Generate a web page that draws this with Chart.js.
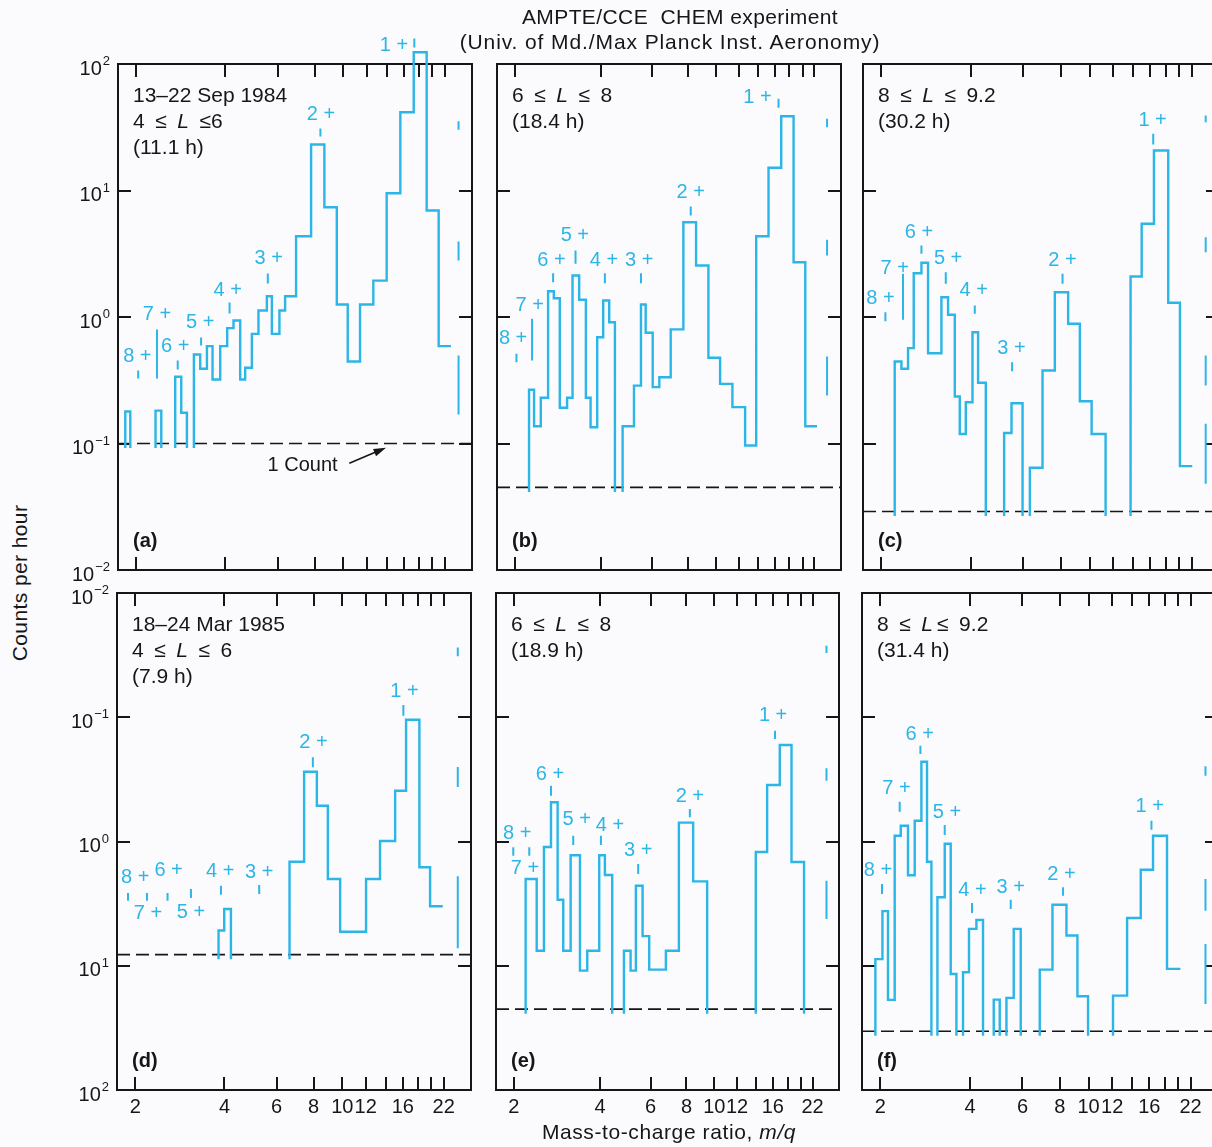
<!DOCTYPE html>
<html>
<head>
<meta charset="utf-8">
<title>AMPTE/CCE CHEM experiment</title>
<script src="https://cdn.jsdelivr.net/npm/chart.js@4.4.1/dist/chart.umd.min.js"></script>
<style>
    html, body { margin: 0; padding: 0; }
    body {
        width: 1212px; height: 1147px; overflow: hidden; position: relative;
        background: #fbfbfd; color: #161616;
        font-family: "Liberation Sans", Arial, Helvetica, sans-serif;
    }
    canvas { position: absolute; }
    .lbl { position: absolute; white-space: nowrap; font-size: 21px; line-height: 21px; }
</style>
</head>
<body>
<script>
// axes
const xMin = 1.735, xMax = 27.2, yMin = 0.01, yMax = 100;
const xTicks = [2, 4, 6, 8, 10, 12, 14, 16, 18, 20, 22];
const xTickLabels = ['2', '4', '6', '8', '10', '12', '', '16', '', '', '22'];
const yTicks = [100, 10, 1, 0.1, 0.01];
const topRowExp = ['2', '1', '0', '\u22121', '\u22122'];
const bottomRowExp = ['\u22122', '\u22121', '0', '1', '2'];
const ionLabels = ['8+', '7+', '6+', '5+', '4+', '3+', '2+', '1+'];

// (a) 13-22 Sep 1984, 4 <= L <= 6
const aHeader = ['13\u201322 Sep 1984', '4\u2002\u2264\u2002*L*\u2002\u22646', '(11.1 h)'];
const aEdges = [1.80, 1.836, 1.909, 2.323, 2.429, 2.707, 2.837, 2.965, 3.130, 3.288, 3.464, 3.618, 3.841, 4.055, 4.259, 4.486, 4.663, 4.913, 5.171, 5.520, 5.739, 6.086, 6.361, 6.927, 7.785, 8.632, 9.507, 10.35, 11.39, 12.63, 14.01, 15.58, 17.29, 19.12, 20.99, 23.09];
const aCounts = [0, 0.179, 0, 0.182, 0, 0.337, 0.175, 0, 0.505, 0.390, 0.588, 0.321, 0.588, 0.816, 0.938, 0.321, 0.397, 0.736, 1.126, 1.460, 0.736, 1.126, 1.460, 4.35, 23.1, 7.38, 1.256, 0.445, 1.256, 1.94, 9.52, 41.6, 124, 6.95, 0.588];
const aLevel = 0.1;
const aIonX = [2.03, 2.35, 2.76, 3.31, 4.13, 5.56, 8.37, 17.37];
const aIonTop = [0.378, 0.796, 0.453, 0.688, 1.302, 2.207, 30.9, 159];
const aIonBottom = [0.3265, 0.3265, 0.3846, 0.595, 1.066, 1.84, 26.7, 135];
const aLabelX = [2.016, 2.35, 2.707, 3.288, 4.07, 5.60, 8.41, 14.83];
const aLabelY = [0.487, 1.047, 0.5845, 0.905, 1.62, 2.90, 39.9, 140];
const aMarkX = 24.5;
const aMarkLo = [30.2, 2.797, 0.1695];
const aMarkHi = [35.3, 3.953, 0.4963];
const noteText = '1 Count';
const noteAt = [7.29, 0.067];
const arrowFrom = [10.48, 0.0699];
const arrowTo = [13.94, 0.0925];

// (b) 6 <= L <= 8
const bHeader = ['6\u2002\u2264\u2002*L*\u2002\u2264\u20028', '(18.4 h)'];
const bEdges = [1.80, 2.242, 2.334, 2.463, 2.611, 2.733, 2.867, 3.040, 3.175, 3.348, 3.533, 3.668, 3.868, 4.058, 4.258, 4.457, 4.740, 5.191, 5.489, 5.700, 6.030, 6.358, 6.964, 7.706, 8.531, 9.417, 10.34, 11.41, 12.63, 13.80, 15.23, 16.86, 18.61, 20.44, 22.45];
const bCounts = [0, 0.266, 0.137, 0.230, 1.600, 1.408, 0.1915, 0.230, 2.129, 1.368, 0.230, 0.1345, 0.692, 1.350, 0.910, 0, 0.137, 0.287, 1.256, 0.750, 0.279, 0.334, 0.799, 5.616, 2.554, 0.476, 0.296, 0.194, 0.0964, 4.352, 15.12, 38.68, 2.712, 0.137];
const bLevel = 0.045;
const bIonX = [2.027, 2.297, 2.718, 3.252, 4.113, 5.489, 8.175, 16.50];
const bIonTop = [0.5117, 0.968, 2.220, 3.355, 2.220, 2.220, 7.472, 53.1];
const bIonBottom = [0.4392, 0.453, 1.884, 2.634, 1.850, 1.850, 6.345, 45.07];
const bLabelX = [1.973, 2.255, 2.684, 3.234, 4.080, 5.415, 8.175, 13.94];
const bLabelY = [0.6725, 1.233, 2.797, 4.41, 2.797, 2.797, 9.70, 54.6];
const bMarkX = 24.33;
const bMarkLo = [31.66, 3.063, 0.2395];
const bMarkHi = [36.9, 4.076, 0.4873];

// (c) 8 <= L <= 9.2
const cHeader = ['8\u2002\u2264\u2002*L*\u2002\u2264\u20029.2', '(30.2 h)'];
const cEdges = [1.80, 2.217, 2.335, 2.458, 2.568, 2.726, 2.869, 3.181, 3.349, 3.527, 3.666, 3.841, 4.045, 4.224, 4.483, 5.166, 5.469, 5.957, 6.303, 6.951, 7.645, 8.474, 9.276, 10.16, 11.32, 13.73, 14.96, 16.45, 18.37, 20.11, 22.12];
const cCounts = [0, 0.445, 0.390, 0.567, 2.220, 2.682, 0.517, 1.434, 1.041, 0.235, 0.119, 0.212, 0.758, 0.302, 0, 0.121, 0.208, 0, 0.0643, 0.378, 1.570, 0.884, 0.216, 0.119, 0, 2.090, 5.455, 20.71, 1.295, 0.0662];
const cLevel = 0.029;
const cIonX = [2.063, 2.364, 2.726, 3.290, 4.117, 5.494, 8.115, 16.36];
const cIonTop = [1.091, 2.195, 3.674, 2.260, 1.233, 0.4392, 2.195, 28.07];
const cIonBottom = [0.9264, 0.950, 3.160, 1.830, 1.060, 0.3729, 1.830, 23.1];
const cLabelX = [1.985, 2.217, 2.676, 3.349, 4.086, 5.469, 8.115, 16.28];
const cLabelY = [1.393, 2.404, 4.68, 2.885, 1.62, 0.5607, 2.797, 35.8];
const cMarkX = 24.54;
const cMarkLo = [34.7, 3.253, 0.2873, 0.048];
const cMarkHi = [39.2, 4.273, 0.4963, 0.1431];

// (d) 18-24 Mar 1985, 4 <= L <= 6
const dHeader = ['18\u201324 Mar 1985', '4\u2002\u2264\u2002*L*\u2002\u2264\u20026', '(7.9 h)'];
const dEdges = [1.80, 3.821, 3.993, 4.207, 6.634, 7.432, 8.206, 8.937, 9.834, 12.03, 13.41, 15.08, 16.42, 18.21, 19.79, 21.84];
const dCounts = [0, 0.192, 0.286, 0, 0.688, 3.642, 1.941, 0.499, 0.188, 0.499, 1.009, 2.563, 9.548, 0.620, 0.301];
const dLevel = 0.1228;
const dIonX = [1.890, 2.190, 2.570, 3.083, 3.893, 5.241, 7.954, 16.08];
const dIonTop = [0.3853, 0.3853, 0.3853, 0.4148, 0.4410, 0.4467, 4.757, 12.54];
const dIonBottom = [0.334, 0.334, 0.334, 0.3511, 0.3733, 0.3782, 3.954, 10.28];
const dLabelX = [2.000, 2.207, 2.591, 3.083, 3.871, 5.241, 7.991, 16.21];
const dLabelY = [0.515, 0.261, 0.582, 0.2694, 0.5715, 0.565, 6.28, 16.04];
const dMarkX = 24.54;
const dMarkLo = [30.9, 2.745, 0.1382];
const dMarkHi = [36.5, 3.977, 0.5249];

// (e) 6 <= L <= 8
const eHeader = ['6\u2002\u2264\u2002*L*\u2002\u2264\u20028', '(18.9 h)'];
const eEdges = [1.80, 2.201, 2.405, 2.549, 2.697, 2.845, 2.976, 3.158, 3.403, 3.608, 3.972, 4.157, 4.409, 4.843, 5.109, 5.331, 5.625, 5.931, 6.781, 7.527, 8.439, 9.443, 13.95, 15.28, 16.91, 18.58, 20.55, 22.5];
const eCounts = [0, 0.499, 0.132, 0.903, 2.067, 0.340, 0.132, 0.775, 0.0913, 0.132, 0.775, 0.538, 0, 0.132, 0.0913, 0.441, 0.173, 0.0930, 0.132, 1.419, 0.478, 0, 0.823, 2.848, 5.975, 0.684, 0];
const eLevel = 0.0447;
const eIonX = [1.993, 2.266, 2.697, 3.224, 4.026, 5.430, 8.219, 16.28];
const eIonTop = [0.898, 0.898, 2.811, 1.113, 1.113, 0.659, 1.826, 7.788];
const eIonBottom = [0.7688, 0.7688, 2.336, 0.937, 0.937, 0.5477, 1.566, 6.675];
const eLabelX = [2.058, 2.189, 2.675, 3.314, 4.328, 5.430, 8.219, 16.03];
const eLabelY = [1.170, 0.6086, 3.49, 1.497, 1.357, 0.8433, 2.31, 10.28];
const eMarkX = 24.6;
const eMarkLo = [32.85, 3.084, 0.2379];
const eMarkHi = [37.6, 3.88, 0.4839];

// (f) 8 <= L <= 9.2
const fHeader = ['8\u2002\u2264\u2002*L*\u2009\u2264\u20029.2', '(31.4 h)'];
const fEdges = [1.80, 1.924, 2.032, 2.121, 2.234, 2.341, 2.476, 2.608, 2.746, 2.868, 2.967, 3.108, 3.289, 3.445, 3.600, 3.789, 3.968, 4.202, 4.422, 4.804, 5.032, 5.300, 5.607, 5.919, 6.856, 7.565, 8.428, 9.174, 9.961, 12.08, 13.47, 14.97, 16.46, 18.34, 20.34];
const fCounts = [0, 0.113, 0.275, 0.0531, 1.113, 1.340, 0.535, 1.470, 4.385, 0.688, 0, 0.356, 0.960, 0.0859, 0, 0.0887, 0.198, 0.234, 0, 0.0534, 0, 0.0551, 0.198, 0, 0.0930, 0.310, 0.175, 0.0568, 0, 0.0575, 0.242, 0.593, 1.113, 0.0943];
const fLevel = 0.0297;
const fIonX = [2.025, 2.322, 2.725, 3.289, 4.062, 5.478, 8.209, 16.26];
const fIonTop = [0.455, 2.09, 5.897, 1.357, 0.32, 0.3402, 0.428, 1.470];
const fIonBottom = [0.3782, 1.737, 5.057, 1.128, 0.266, 0.2864, 0.3664, 1.244];
const fLabelX = [1.964, 2.264, 2.710, 3.348, 4.074, 5.478, 8.106, 16.05];
const fLabelY = [0.582, 2.679, 7.32, 1.718, 0.402, 0.428, 0.5477, 1.905];
const fMarkX = 24.69;
const fMarkLo = [3.383, 0.2775, 0.0493];
const fMarkHi = [4.027, 0.4993, 0.1498];

const ink = '#161616';
const cyan = '#2cb5e7';
const fontFam = '"Liberation Sans", Arial, Helvetica, sans-serif';

// panel boxes on the page (chart area in px)
const panels = [
    { tag: '(a)', left: 118, top: 64, w: 354, h: 506, row: 0, first: true,
      header: aHeader, edges: aEdges, counts: aCounts, level: aLevel, ionX: aIonX, ionTop: aIonTop, ionBottom: aIonBottom,
      labelX: aLabelX, labelY: aLabelY, markX: aMarkX, markLo: aMarkLo, markHi: aMarkHi, note: true },
    { tag: '(b)', left: 497, top: 64, w: 344, h: 506, row: 0,
      header: bHeader, edges: bEdges, counts: bCounts, level: bLevel, ionX: bIonX, ionTop: bIonTop, ionBottom: bIonBottom,
      labelX: bLabelX, labelY: bLabelY, markX: bMarkX, markLo: bMarkLo, markHi: bMarkHi },
    { tag: '(c)', left: 863, top: 64, w: 356, h: 506, row: 0,
      header: cHeader, edges: cEdges, counts: cCounts, level: cLevel, ionX: cIonX, ionTop: cIonTop, ionBottom: cIonBottom,
      labelX: cLabelX, labelY: cLabelY, markX: cMarkX, markLo: cMarkLo, markHi: cMarkHi },
    { tag: '(d)', left: 117, top: 593, w: 354, h: 497, row: 1, first: true,
      header: dHeader, edges: dEdges, counts: dCounts, level: dLevel, ionX: dIonX, ionTop: dIonTop, ionBottom: dIonBottom,
      labelX: dLabelX, labelY: dLabelY, markX: dMarkX, markLo: dMarkLo, markHi: dMarkHi },
    { tag: '(e)', left: 496, top: 593, w: 343, h: 497, row: 1,
      header: eHeader, edges: eEdges, counts: eCounts, level: eLevel, ionX: eIonX, ionTop: eIonTop, ionBottom: eIonBottom,
      labelX: eLabelX, labelY: eLabelY, markX: eMarkX, markLo: eMarkLo, markHi: eMarkHi },
    { tag: '(f)', left: 862, top: 593, w: 356, h: 497, row: 1,
      header: fHeader, edges: fEdges, counts: fCounts, level: fLevel, ionX: fIonX, ionTop: fIonTop, ionBottom: fIonBottom,
      labelX: fLabelX, labelY: fLabelY, markX: fMarkX, markLo: fMarkLo, markHi: fMarkHi }
];

// histogram outline: empty bins leave a gap, the line drops just below the 1-count level
function stepPoints(edges, counts, floor) {
    const pts = [];
    for (let i = 0; i < counts.length; i++) {
        const c = counts[i];
        if (!c) continue;
        if (i > 0 && !counts[i - 1]) pts.push({ x: edges[i], y: floor });
        pts.push({ x: edges[i], y: c });
        pts.push({ x: edges[i + 1], y: c });
        if (i < counts.length - 1 && !counts[i + 1]) {
            pts.push({ x: edges[i + 1], y: floor });
            pts.push({ x: edges[i + 1], y: null });
        }
    }
    return pts;
}

// short vertical strokes
function segPoints(xs, lo, hi) {
    const pts = [];
    lo.forEach((v, i) => {
        const x = Array.isArray(xs) ? xs[i] : xs;
        pts.push({ x: x, y: v }, { x: x, y: hi[i] }, { x: x, y: null });
    });
    return pts;
}

function richText(ctx, str, x, y, size) {
    str.split('*').forEach((part, i) => {
        ctx.font = (i % 2 ? 'italic ' : '') + size + 'px ' + fontFam;
        ctx.fillText(part, x, y);
        x += ctx.measureText(part).width;
    });
}

function makeDecor(p) {
    return {
        id: 'decor',
        beforeDatasetsDraw(chart) {
            const { ctx, chartArea: a } = chart;
            const sx = chart.scales.x, sy = chart.scales.y;
            ctx.save();
            ctx.strokeStyle = ink;
            ctx.lineWidth = 2;
            ctx.beginPath();
            xTicks.forEach(v => {
                const px = Math.round(sx.getPixelForValue(v));
                ctx.moveTo(px, a.top); ctx.lineTo(px, a.top + 13);
                ctx.moveTo(px, a.bottom); ctx.lineTo(px, a.bottom - 13);
            });
            yTicks.forEach(v => {
                const py = Math.round(sy.getPixelForValue(v));
                ctx.moveTo(a.left, py); ctx.lineTo(a.left + 13, py);
                ctx.moveTo(a.right, py); ctx.lineTo(a.right - 13, py);
            });
            ctx.stroke();
            ctx.strokeRect(a.left, a.top, a.right - a.left, a.bottom - a.top);
            ctx.restore();
        },
        afterDatasetsDraw(chart) {
            const { ctx, chartArea: a } = chart;
            const sx = chart.scales.x, sy = chart.scales.y;
            ctx.save();
            ctx.fillStyle = ink;
            ctx.textAlign = 'left';
            ctx.textBaseline = 'alphabetic';
            p.header.forEach((line, i) => richText(ctx, line, a.left + 15, a.top + 38 + i * 26, 21));
            ctx.font = 'bold 20px ' + fontFam;
            ctx.fillText(p.tag, a.left + 15, a.bottom - 23);

            if (p.first) {
                const exps = p.row === 0 ? topRowExp : bottomRowExp;
                yTicks.forEach((v, i) => {
                    const py = sy.getPixelForValue(v);
                    ctx.font = '13px ' + fontFam;
                    const ew = ctx.measureText(exps[i]).width;
                    ctx.textAlign = 'left';
                    ctx.fillText(exps[i], a.left - 8 - ew, py + 1);
                    ctx.font = '20px ' + fontFam;
                    ctx.textAlign = 'right';
                    ctx.fillText('10', a.left - 9 - ew, py + 10.5);
                });
            }
            if (p.row === 1) {
                ctx.font = '20px ' + fontFam;
                ctx.textAlign = 'center';
                xTicks.forEach((v, i) => {
                    if (xTickLabels[i]) ctx.fillText(xTickLabels[i], sx.getPixelForValue(v), a.bottom + 23);
                });
            }

            // charge state labels
            ctx.fillStyle = cyan;
            ctx.font = '20px ' + fontFam;
            ctx.textAlign = 'center';
            ctx.textBaseline = 'middle';
            ionLabels.forEach((t, i) => {
                ctx.fillText(t.replace('+', ' +'), sx.getPixelForValue(p.labelX[i]), sy.getPixelForValue(p.labelY[i]));
            });

            if (p.note) {
                ctx.fillStyle = ink;
                ctx.strokeStyle = ink;
                ctx.font = '20px ' + fontFam;
                ctx.fillText(noteText, sx.getPixelForValue(noteAt[0]), sy.getPixelForValue(noteAt[1]));
                const x0 = sx.getPixelForValue(arrowFrom[0]), y0 = sy.getPixelForValue(arrowFrom[1]);
                const x1 = sx.getPixelForValue(arrowTo[0]), y1 = sy.getPixelForValue(arrowTo[1]);
                const ang = Math.atan2(y1 - y0, x1 - x0);
                ctx.lineWidth = 1.6;
                ctx.beginPath();
                ctx.moveTo(x0, y0);
                ctx.lineTo(x1 - 6 * Math.cos(ang), y1 - 6 * Math.sin(ang));
                ctx.stroke();
                ctx.beginPath();
                ctx.moveTo(x1, y1);
                ctx.lineTo(x1 - 13 * Math.cos(ang - 0.3), y1 - 13 * Math.sin(ang - 0.3));
                ctx.lineTo(x1 - 13 * Math.cos(ang + 0.3), y1 - 13 * Math.sin(ang + 0.3));
                ctx.closePath();
                ctx.fill();
            }
            ctx.restore();
        }
    };
}

function makePanel(p) {
    const padL = p.first ? 75 : 30, padR = 12;
    const padT = p.row === 0 ? 45 : 20, padB = p.row === 0 ? 15 : 40;
    const cv = document.createElement('canvas');
    cv.width = p.w + padL + padR;
    cv.height = p.h + padT + padB;
    cv.style.left = (p.left - padL) + 'px';
    cv.style.top = (p.top - padT) + 'px';
    document.body.appendChild(cv);

    new Chart(cv, {
        type: 'line',
        data: {
            datasets: [{
                data: stepPoints(p.edges, p.counts, p.level * 0.92),
                borderColor: cyan, borderWidth: 2.4, order: 1, clip: false
            }, {
                data: segPoints(p.ionX, p.ionBottom, p.ionTop),
                borderColor: cyan, borderWidth: 2, order: 2, clip: false
            }, {
                data: segPoints(p.markX, p.markLo, p.markHi),
                borderColor: cyan, borderWidth: 2, order: 3, clip: false
            }, {
                data: [{ x: xMin, y: p.level }, { x: xMax, y: p.level }],
                borderColor: ink, borderWidth: 1.7, borderDash: [13, 6], order: 4, clip: false
            }]
        },
        options: {
            responsive: false,
            animation: false,
            events: [],
            layout: { padding: { left: padL, top: padT, right: padR, bottom: padB } },
            elements: { point: { radius: 0 }, line: { tension: 0, borderCapStyle: 'butt' } },
            scales: {
                x: { type: 'logarithmic', min: xMin, max: xMax, display: false },
                y: { type: 'logarithmic', min: yMin, max: yMax, display: false }
            },
            plugins: { legend: { display: false }, tooltip: { enabled: false } }
        },
        plugins: [makeDecor(p)]
    });
}

panels.forEach(makePanel);
</script>
<div class="lbl" style="left:680px; top:6px; transform:translateX(-50%); letter-spacing:0.4px">AMPTE/CCE&nbsp; CHEM experiment</div>
<div class="lbl" style="left:670px; top:31px; transform:translateX(-50%); letter-spacing:0.9px">(Univ. of Md./Max Planck Inst. Aeronomy)</div>
<div class="lbl" style="left:19px; top:583px; transform:translate(-50%,-50%) rotate(-90deg); letter-spacing:0.4px">Counts per hour</div>
<div class="lbl" style="left:669px; top:1121px; transform:translateX(-50%); letter-spacing:0.6px">Mass-to-charge ratio, <i>m/q</i></div>
</body>
</html>
